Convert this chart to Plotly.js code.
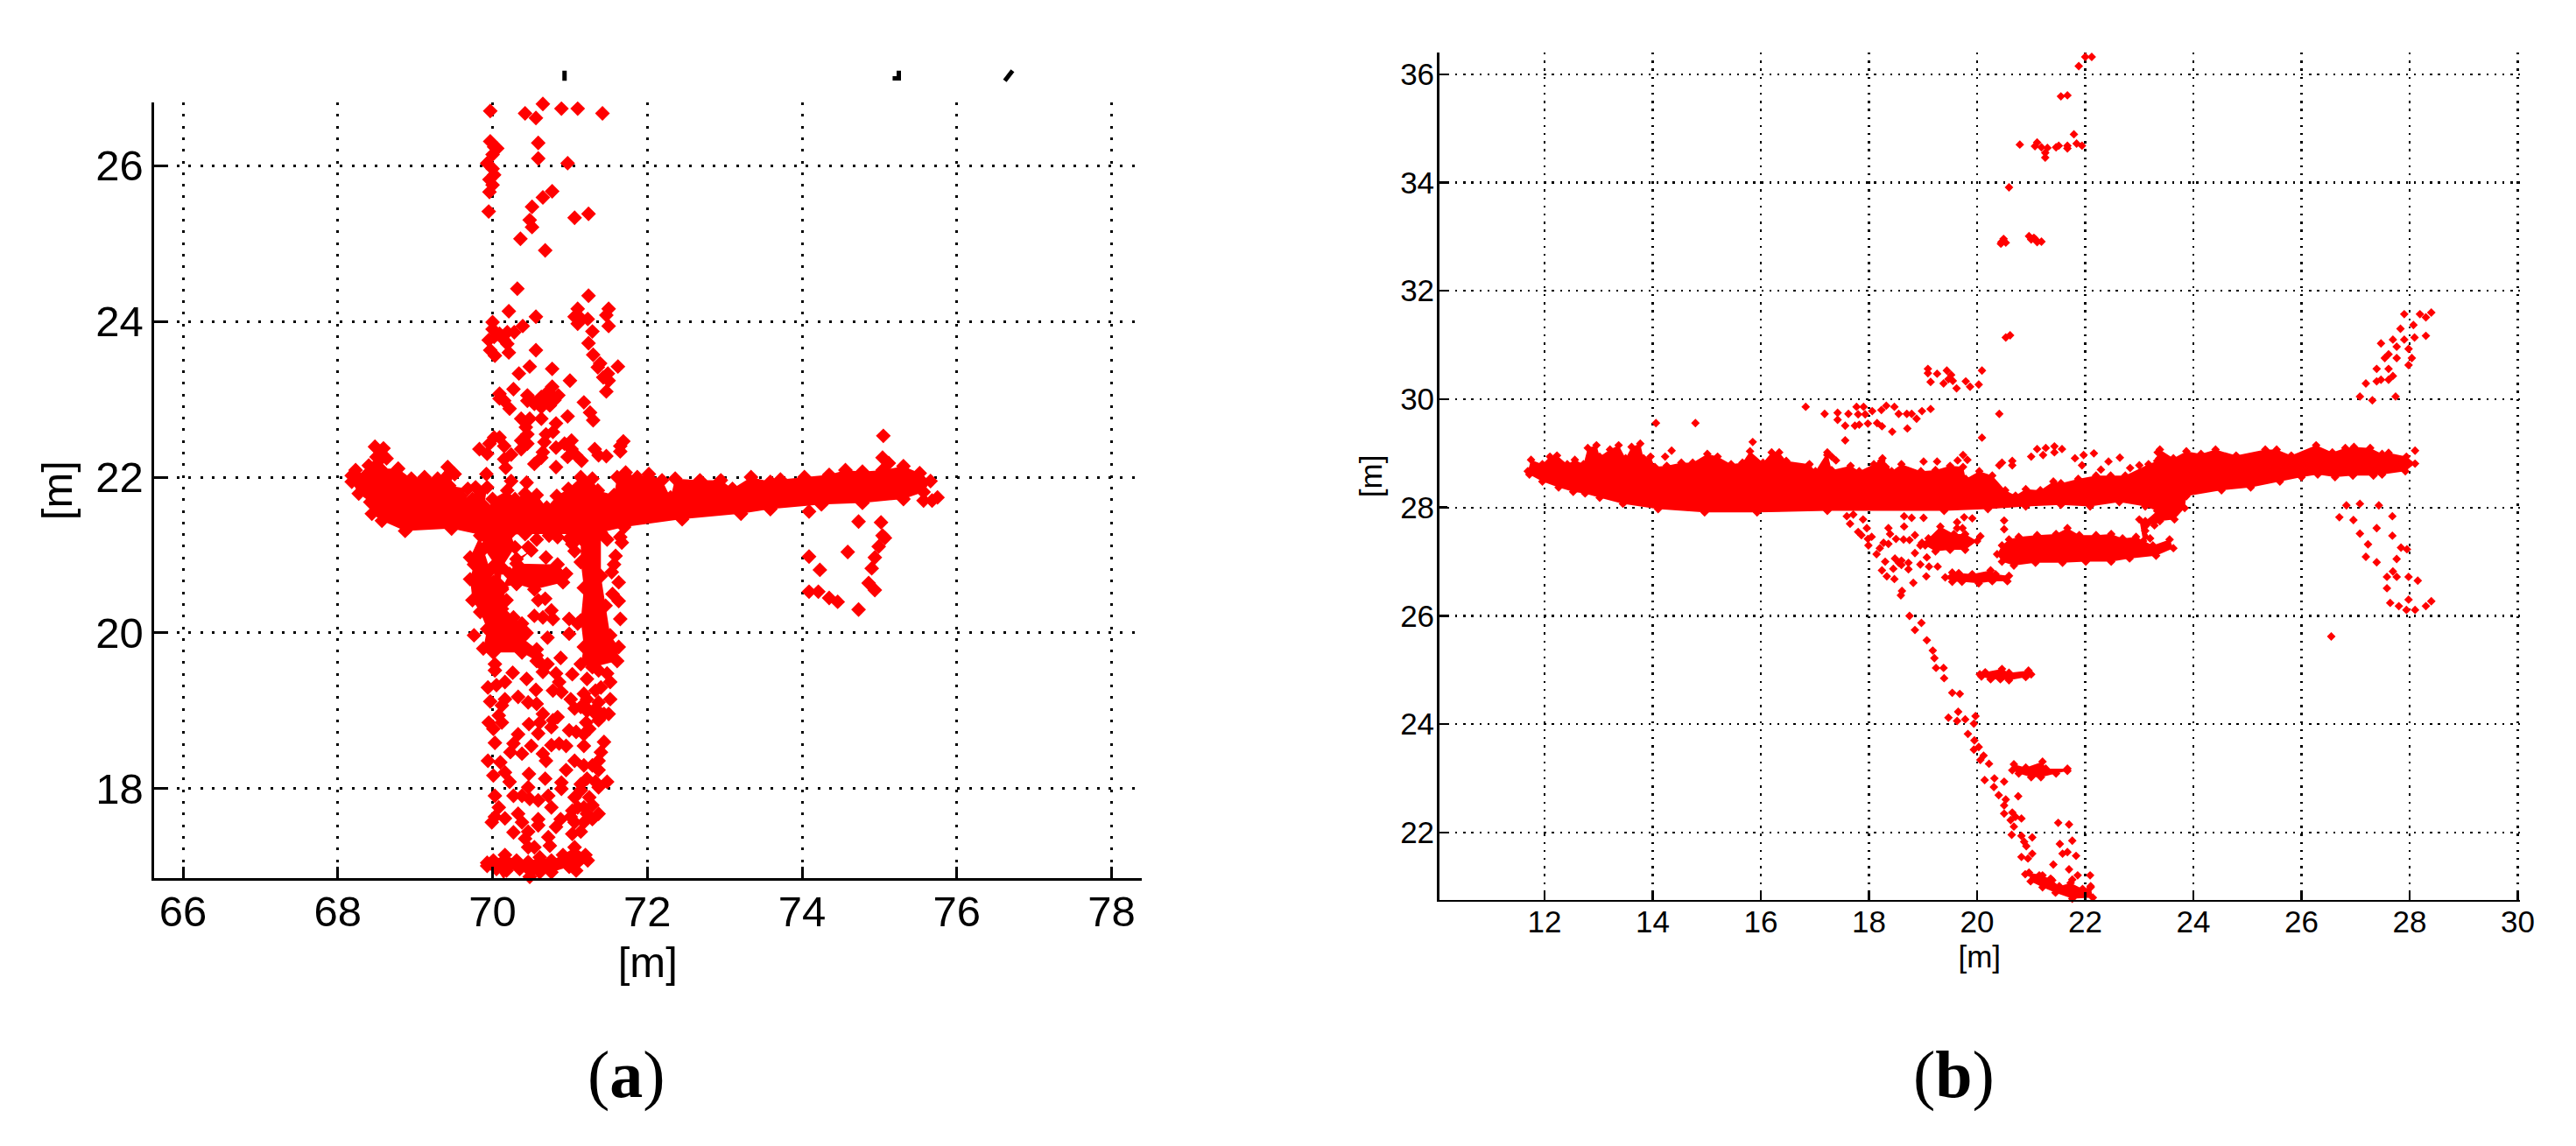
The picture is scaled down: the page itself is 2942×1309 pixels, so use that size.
<!DOCTYPE html>
<html><head><meta charset="utf-8">
<script src="https://cdn.plot.ly/plotly-3.0.1.min.js"></script>
<style>html,body{margin:0;padding:0;background:#fff}#g{width:2942px;height:1309px}</style>
</head><body><div id="g"></div>
<script>
// ---------- panel (a): x,y in metres ----------
const aWingX=[68.18,68.23,68.36,68.40,68.50,68.48,68.59,68.63,68.55,68.78,68.95,69.12,69.29,69.42,69.51,69.44,69.68,69.59,69.74,69.78,69.93,69.89,69.99,70.0,70.19,70.29,70.42,70.57,70.70,70.83,70.98,71.14,71.29,71.36,71.57,71.61,71.72,71.87,72.02,72.19,72.30,72.36,72.68,72.95,73.10,73.34,73.59,73.72,74.03,74.35,74.56,74.78,75.04,75.31,75.52,75.66,75.57,75.31,74.78,74.25,73.59,73.21,72.45,71.70,71.4,71.06,70.42,69.89,69.47,68.87,68.57,68.44,68.42,68.27,68.18];
const aWingY=[22.02,22.09,22.02,22.15,22.26,22.39,22.37,22.24,22.11,22.11,21.98,22.0,21.98,22.13,22.04,21.89,21.85,21.76,21.72,21.87,21.87,21.63,21.57,21.72,21.83,21.72,21.79,21.77,21.61,21.76,21.85,22,21.98,21.83,21.77,22,22.06,22,22.04,21.96,21.74,21.98,21.96,21.96,21.85,22,21.94,21.97,22,22.03,22.09,22.07,22.09,22.14,22.05,21.95,21.81,21.72,21.67,21.65,21.59,21.53,21.46,21.36,21.29,21.27,21.27,21.25,21.34,21.31,21.44,21.53,21.68,21.79,21.94];
const aRightSparX=[71.14,71.40,71.40,71.46,71.52,71.63,71.61,71.29,71.14,71.18,71.14,71.18,71.14,71.14];
const aRightSparY=[21.29,21.36,20.73,20.35,19.97,19.82,19.64,19.56,19.6,19.82,20.16,20.58,20.91,21.21];
const aLeftSparX=[69.84,69.71,69.76,69.71,69.74,69.84,69.93,69.88,70.01,70.38,70.57,70.65,70.71,70.57,70.38,70.35,70.38,70.27,70.18,70.12,70.18,70.12,70.01,69.97,69.88];
const aLeftSparY=[21.25,20.97,20.88,20.69,20.42,20.27,20.05,19.8,19.75,19.75,19.64,19.5,19.6,19.79,19.94,20.09,20.12,20.2,20.2,20.31,20.42,20.56,20.65,20.8,21.08];
const aUpperBraceX=[69.88,70.23,70.29,70.12,70.1,70.01,70.03,69.89];
const aUpperBraceY=[21.29,21.29,21.1,20.84,20.61,20.65,20.88,21.08];
const aLobeX=[70.31,70.84,70.95,70.91,70.54,70.31,70.12,70.22,70.31,70.5];
const aLobeY=[20.89,20.88,20.76,20.65,20.56,20.63,20.58,20.76,20.95,21.06];
const aTailEndX=[69.93,70.01,70.16,70.31,70.46,70.61,70.76,70.91,71.06,71.2,71.23,71.08,70.99,70.76,70.61,70.48,70.35,70.18,70.15,70.05,69.93];
const aTailEndY=[17.05,17.08,17.15,17.08,17.06,17.12,17.08,17.15,17.25,17.15,17.08,16.95,17,16.93,16.93,16.87,16.97,16.95,16.83,16.97,17.01];
const aHeartX=[70.77,70.85,70.8,70.74,70.63,70.54,70.45,70.45,70.63,70.71];
const aHeartY=[23.16,23.05,22.99,22.92,22.90,22.94,22.98,23.05,23.03,23.09];
const aNoseX=[69.97,70.02,70.06,70,69.93,70,70.02,69.96,70,69.96,69.95,70.09,70.09,70.15,70.22,
70.42,70.65,70.56,70.89,71.10,71.42,70.59,70.59,70.97,70.77,70.65,70.51,70.48,70.51,70.36,70.68,71.06,71.24,69.97,
70.32,71.24,70.21,70.56,71.10,71.06,71.15,71.23,71.10,71.50,71.47,71.50,70.39,70,70,70.09,70.19,70.28,70.15,70.02,69.95,70.19,69.97,70.03,70.21,70.56,
71.29,71.24,71.30,71.39,71.36,71.62,71.49,71.43,71.5,71.47,70.48,70.34,70.77,71.0,70.27,70.63,70.97,71.18,71.26,71.3,70.82,
70.37,70.48,70.43,70.45,70.78,70.69,70.37,70.67,70.02,70.09,69.96,69.83,70.15,70.24,69.93,70.15,70.17,70.37,70.45,70.65,70.54,70.63,
70.82,70.93,71.02,71.02,70.97,71.15,71.08,71.32,71.37,71.47,71.65,71.69,71.65,70.82,69.92,70.24,70.44];
const aNoseY=[26.31,26.24,26.22,26.14,26.03,25.96,25.88,25.82,25.75,25.66,25.41,23.07,23.01,22.98,22.88,
26.67,26.79,26.61,26.73,26.73,26.67,26.29,26.09,26.03,25.67,25.59,25.47,25.30,25.21,25.06,24.91,25.33,25.38,26.70,
24.42,24.33,24.13,24.06,24.16,24.06,24.03,24.03,23.97,24.16,24.08,23.94,23.94,23.99,23.90,23.84,23.86,23.86,23.76,23.8,23.76,23.71,23.63,23.56,23.6,23.63,
23.87,23.72,23.57,23.46,23.41,23.42,23.33,23.28,23.24,23.1,23.42,23.33,23.39,23.24,23.13,22.75,22.78,22.96,22.83,22.73,22.69,
22.75,22.75,22.64,22.55,22.58,22.55,22.47,22.45,22.51,22.51,22.43,22.36,22.4,22.29,22.3,22.23,22.12,22.36,22.43,22.32,22.17,22.25,
22.38,22.43,22.47,22.36,22.26,22.21,22.28,22.36,22.28,22.27,22.4,22.46,22.33,22.13,22.04,21.95,21.93];
const aWingEndX=[75.57,75.75,75.68,75.05,75.04,75.12,74.09,74.73,74.09,74.23,74.59,74.09,74.21,74.35,74.46,74.73,75.02,75.04,74.99,74.94,74.90,74.86,74.94,75.07];
const aWingEndY=[21.70,21.74,21.7,22.53,22.25,22.18,21.56,21.43,20.98,20.81,21.04,20.53,20.53,20.45,20.40,20.30,21.42,21.25,21.11,20.97,20.83,20.64,20.55,21.22];
const aBodyX=[71.48,71.65,71.67,71.59,71.57,71.54,71.63,71.55,71.63,71.65,70.69,70.59,70.68,70.76,70.54,70.65,70.78,70.99,71.10,70.99,70.44,70.71,69.76,70.88,70.57,70.65,
70.84,70.99,70.73,70.57,70.46,71.03,71.06,
70.03,70.03,70.26,70.44,70.16,70.05,69.94,70.56,70.82,71.03,70.86,70.78,70.89,71.01,69.97,70.16,70.12,70.33,70.46,70.57,70.65,71.06,71.2,71.33,70.08,70.12,69.95,70.01,70.47,70.78,70.84,70.61,70.59,70.76,70.99,71.08,71.21,
70.03,70.33,70.27,70.23,70.38,70.5,70.65,70.69,70.86,70.95,70.76,71.18,71.44,71.4,71.37,71.06,71.18,70.95,69.94,70.1,70.16,70.22,70.01,70.47,70.68,70.46,70.89,70.89,
70.27,70.38,70.48,70.03,70.08,70.03,70.59,70.72,70.76,70.33,69.99,70.16,70.38,70.59,70.59,70.46,70.27,70.42,70.88,70.82,70.72,70.74,71.01,71.03,70.54,70.46,
71.37,71.52,71.22,71.18,71.33,71.52,71.44,71.22,71.14,71.37,71.25,71.18,71.48,71.37,71.14,71.06,71.25,71.37,71.18,71.06,71.14,71.29,71.18,71.22,71.37,71.48,71.4,71.37,71.5,71.33,71.22,71.29,71.14,71.33,71.1,71.29,71.03,71.22];
const aBodyY=[21.20,21.23,21.16,20.99,20.88,20.78,20.65,20.50,20.41,20.18,20.97,20.42,20.44,20.29,20.22,20.20,20.18,20.18,20.12,19.99,20.0,19.94,19.97,19.68,19.71,19.58,
21.23,21.21,21.25,21.2,21.1,21.14,21.05,
19.6,19.52,19.49,19.41,19.37,19.33,19.3,19.27,19.48,19.47,19.37,19.26,19.24,19.15,19.12,19.15,19.07,19.18,19.11,19.09,18.96,19.03,19.05,19.03,18.94,18.85,18.85,18.77,18.83,18.88,18.92,18.85,18.71,18.79,18.75,18.73,18.85,
18.59,18.70,18.58,18.47,18.45,18.55,18.45,18.36,18.58,18.55,18.56,18.55,18.6,18.47,18.36,18.36,18.3,18.24,18.36,18.34,18.21,18.09,18.17,18.19,18.13,18.02,18.08,18.0,
17.91,17.91,17.87,17.91,17.76,17.64,17.85,17.91,17.76,17.68,17.57,17.62,17.57,17.61,17.53,17.45,17.44,17.36,17.61,17.51,17.38,17.27,17.64,17.42,17.25,17.25,
19.52,19.37,19.41,19.22,19.26,19.15,18.96,19.15,19.05,18.88,18.77,18.7,18.09,18.02,17.98,17.89,17.89,17.68,17.57,17.57,17.45,17.61,17.76,18.13,18.24,19.48,19.3,19.11,18.96,18.96,19.0,18.3,18.06,18.09,17.76,17.79,17.72,17.68];
const aStrayX=[70.93,70.93,null,75.25,75.25,75.17,null,76.72,76.62];
const aStrayY=[27.22,27.09,null,27.22,27.12,27.12,null,27.22,27.09];
const aTicksX=[66,68,70,72,74,76,78];
const aTicksY=[18,20,22,24,26];

// ---------- panel (b): x,y in metres ----------
const bWingX=[11.69,11.75,11.96,12.10,12.23,12.42,12.56,12.72,12.80,12.96,13.02,13.21,13.37,13.50,13.61,13.77,13.83,13.96,14.04,14.26,14.53,14.74,15.01,15.20,15.45,15.66,15.80,16.04,16.20,16.34,16.47,16.90,17.01,17.23,17.31,17.66,17.82,18.09,18.25,18.42,18.60,18.96,19.23,19.50,19.74,19.79,20.04,20.28,20.52,20.71,20.90,21.17,21.41,21.55,21.87,22.20,22.47,22.74,23.17,23.33,23.38,23.63,23.87,24.14,24.41,24.79,25.33,25.54,25.81,26.27,26.57,26.81,26.97,27.27,27.49,27.61,27.94,28.1,27.92,27.49,27.33,26.95,26.62,26.30,26.0,25.60,25.06,24.52,23.87,23.84,23.65,23.38,23.28,23.11,23.33,23.11,22.63,22.09,21.55,20.90,20.20,19.39,17.23,15.93,14.96,14.1,13.45,13.02,12.75,12.53,12.26,11.96,11.72];
const bWingY=[28.67,28.88,28.80,28.94,28.96,28.80,28.88,28.80,29.10,29.15,28.94,29.07,29.15,28.91,29.12,29.18,28.91,28.94,28.75,28.77,28.83,28.83,28.99,28.94,28.80,28.83,29.04,28.83,29.02,29.02,28.86,28.80,28.67,29.02,28.69,28.77,28.67,28.80,28.91,28.67,28.80,28.67,28.69,28.77,28.75,28.53,28.67,28.59,28.32,28.22,28.34,28.32,28.48,28.45,28.53,28.59,28.59,28.59,28.80,28.86,29.07,28.91,29.04,28.99,29.07,28.96,29.07,29.07,28.96,29.15,29.02,29.10,29.12,29.10,28.99,29.01,28.94,28.81,28.67,28.61,28.59,28.59,28.56,28.61,28.56,28.48,28.37,28.32,28.21,27.99,27.78,27.75,27.67,27.75,27.94,28.02,28.10,28.02,28.05,28.02,27.97,27.94,27.94,27.91,27.91,27.97,28.07,28.18,28.26,28.29,28.37,28.48,28.61];
const bInnerX=[20.37,20.46,20.59,20.77,21.11,21.46,21.67,21.89,22.2,22.48,22.69,22.94,23.25,23.56,23.63,23.31,22.82,22.48,22.01,21.58,21.08,20.68,20.46];
const bInnerY=[27.14,27.3,27.41,27.46,27.49,27.51,27.62,27.49,27.49,27.51,27.43,27.46,27.3,27.41,27.25,27.11,27.06,27.0,27.0,26.98,26.98,26.93,27];
const bFlapX=[18.98,19.1,19.32,19.57,19.78,20,19.78,19.5,19.23,19.04];
const bFlapY=[27.35,27.43,27.65,27.51,27.51,27.38,27.22,27.22,27.19,27.3];
const bEngineX=[23,23.25,23.5,23.75,23.34,23.44,23.68,23.56,23.11,23.2,23.07];
const bEngineY=[27.78,27.76,27.87,28.0,27.84,27.95,28.11,28.05,27.57,27.43,27.38];
const bRow267X=[19.41,19.54,19.66,19.91,20.25,20.34,20.59,20.56,20.28,20.03,19.72,19.54];
const bRow267Y=[26.71,26.8,26.79,26.77,26.84,26.77,26.74,26.64,26.64,26.6,26.63,26.63];
const bRow25X=[20.05,20.15,20.46,20.59,20.95,21.0,20.9,20.59,20.43,20.25,20.08];
const bRow25Y=[24.92,24.96,25.02,24.95,24.99,24.92,24.87,24.81,24.83,24.83,24.88];
const bRow23X=[20.65,20.68,20.9,21.21,21.27,21.67,21.67,21.46,21.18,21.0,20.77];
const bRow23Y=[23.15,23.26,23.2,23.31,23.18,23.18,23.14,23.09,23.02,23.02,23.09];
const bWingtipX=[20.96,21.21,21.39,21.52,21.73,21.95,22.1,22.14,21.76,21.45,21.21,20.99];
const bWingtipY=[21.26,21.21,21.12,21.01,21.07,20.96,20.99,20.8,20.78,20.89,20.99,21.1];
const bTopX=[22,22.12,21.88,21.55,21.67,21.79,20.79,21.11,21.07,21.19,21.3,21.26,21.26,21.46,21.51,21.67,21.67,21.84,21.94,20.59,20.45,20.49,20.44,20.53,20.96,21.05,21.11,21.19,21.08,21.0,20.53,20.61];
const bTopY=[36.32,36.32,36.15,35.59,35.61,34.89,34.70,34.74,34.67,34.65,34.64,34.46,34.55,34.65,34.68,34.68,34.63,34.72,34.68,33.91,32.90,32.96,32.87,32.89,33.01,32.98,32.90,32.91,32.95,32.95,31.14,31.18];
const bAboveX=[19.09,19.09,19.26,19.14,19.44,19.52,19.47,19.38,19.55,19.62,19.79,19.87,20.03,20.09,16.83,17.18,17.42,17.42,17.62,17.56,17.74,17.82,17.56,17.77,17.9,17.8,17.93,18.06,18.23,18.32,18.47,17.98,18.15,18.24,18.43,18.55,18.7,18.71,18.79,18.88,18.98,19.14,20.41,20.09,
21,21.11,21.27,21.43,21.57,21.43,21.22,21.81,21.97,22.16,21.94,22.43,22.64,22.29,23.0,22.83,17.23,17.31,17.39,17.2,16.88,18.23,18.31,19.01,19.26,19.74,19.64,19.82,20.46,20.65,20.65,20.41,23.34,23.37,14.06,14.79,14.35,14.23,28.1,15.85];
const bAboveY=[30.56,30.48,30.47,30.32,30.53,30.45,30.37,30.29,30.34,30.2,30.33,30.23,30.27,30.53,29.86,29.73,29.75,29.62,29.73,29.51,29.51,29.53,29.24,29.86,29.86,29.72,29.72,29.78,29.8,29.88,29.86,29.55,29.56,29.5,29.4,29.73,29.73,29.46,29.73,29.64,29.78,29.82,29.73,29.29,
28.94,29.08,29.1,29.13,29.08,29.02,28.97,28.91,28.97,29.0,28.78,28.85,28.92,28.7,28.78,28.73,28.97,28.94,28.87,28.81,28.78,28.86,28.75,28.85,28.85,28.97,28.87,28.88,28.83,28.86,28.78,28.78,29.02,28.91,29.56,29.56,29.05,28.94,29.05,29.21];
const bBelowX=[20.06,20.5,20.5,19.91,19.76,19.63,19.73,19.63,
17.65,17.59,17.71,17.89,17.96,17.86,18.05,17.99,18.14,18.27,18.36,18.65,18.65,18.79,19.01,18.39,18.64,18.85,18.36,18.85,19.07,18.48,18.73,18.95,18.24,18.45,18.73,19.11,19.27,18.33,18.47,19.06,18.82,18.61,18.59,
17.8,17.98,18.2,18.5,18.6,18.75,18.95,18.3,18.55,18.6];
const bBelowY=[27.47,27.76,27.6,27.8,27.82,27.73,27.62,27.62,
27.7,27.84,27.87,27.78,27.62,27.49,27.46,27.3,27.14,27.35,27.62,27.65,27.84,27.81,27.81,27.51,27.41,27.49,27.33,27.16,27.08,27.06,26.98,26.95,26.84,26.87,26.86,26.91,26.91,26.73,26.68,26.73,26.61,26.46,26.38,
27.55,27.42,27.25,27.42,27.02,27.4,27.3,27.0,26.98,26.94];
const bLeadEdgeX=[18.75,18.97,18.85,19.07,19.18,19.21,19.24,19.38,19.39,19.54,19.68,19.47,19.65,19.63,19.78,19.97,19.94,19.83,19.95,19.94,20.03,20.12,20.06,20.22,20.14,20.32,20.5,20.31,20.4,20.76,20.53,20.5,20.5,20.65,20.71,20.82,20.62,20.68,20.64,20.82,21.02,20.87,20.91,21.02,20.82,20.94,
21.5,21.7,21.76,21.53,21.67,21.58,21.83,21.41,21.7,22.09,21.86,21.76,22.1,20.89,21.15,21.36,21.3,21.83];
const bLeadEdgeY=[26.0,25.87,25.74,25.55,25.36,25.22,25.04,25.04,24.85,24.58,24.56,24.12,24.23,24.06,24.09,24.15,24.01,23.82,23.7,23.53,23.58,23.42,23.34,23.27,22.97,23,22.94,22.84,22.69,22.67,22.61,22.5,22.35,22.37,22.29,22.26,22.23,22.11,21.96,21.94,21.91,21.83,21.75,21.61,21.55,21.52,
22.18,22.15,21.85,21.79,21.64,21.61,21.57,21.41,21.32,21.21,21.21,21.13,21.01,21.23,21.21,21.15,21.04,20.86];
const bTailUpX=[27.08,27.19,27.31,27.39,27.74,27.61,27.39,27.54,27.47,27.69,27.76,27.98,27.98,27.9,27.83,28.07,27.9,28.3,28.19,28.4,27.76,27.61,28.09,27.69,28.04,27.47,28.3,27.61];
const bTailUpY=[30.05,30.29,29.98,30.33,30.05,30.56,30.56,30.76,31.03,30.43,30.97,30.63,30.93,31.57,31.3,31.37,31.1,31.17,31.57,31.6,30.76,30.83,31.14,31.1,30.76,30.36,31.51,30.36];
const bTailDownX=[26.83,26.7,26.96,27.08,27.08,27.23,27.19,27.39,27.43,27.68,27.39,27.68,27.84,27.95,27.76,27.69,27.98,27.76,28.15,27.58,27.64,27.8,27.94,28.1,28.3,28.4,27.98,27.58,26.55];
const bTailDownY=[28.04,27.82,27.77,28.07,27.52,27.32,27.09,26.99,28.04,27.84,27.62,27.48,27.26,27.23,27.05,26.82,26.72,26.72,26.65,26.72,26.24,26.18,26.11,26.11,26.18,26.27,26.3,26.51,25.62];
const bTicksX=[12,14,16,18,20,22,24,26,28,30];
const bTicksY=[22,24,26,28,30,32,34,36];

const RED='#ff0000';
const W=2942,H=1309;
function pts(xs,ys,ax,size){return {type:'scatter',mode:'markers',x:xs,y:ys,xaxis:ax[0],yaxis:ax[1],cliponaxis:false,hoverinfo:'skip',
  marker:{symbol:'diamond',size:size,color:RED,line:{width:0}}};}
function solid(xs,ys,ax,size){const t=pts(xs,ys,ax,size);t.fill='toself';t.fillcolor=RED;t.line={width:0,color:RED};return t;}
const A=['x','y'],B=['x2','y2'],SA=13,SB=7.6;
const data=[
 solid(aWingX,aWingY,A,SA),solid(aRightSparX,aRightSparY,A,SA),solid(aLeftSparX,aLeftSparY,A,SA),solid(aUpperBraceX,aUpperBraceY,A,SA),solid(aLobeX,aLobeY,A,SA),solid(aTailEndX,aTailEndY,A,SA),solid(aHeartX,aHeartY,A,SA),
 pts(aNoseX,aNoseY,A,SA),pts(aWingEndX,aWingEndY,A,SA),pts(aBodyX,aBodyY,A,SA),
 {type:'scatter',mode:'lines',x:aStrayX,y:aStrayY,xaxis:'x3',yaxis:'y3',cliponaxis:false,hoverinfo:'skip',line:{color:'#000',width:5}},
 solid(bWingX,bWingY,B,SB),solid(bInnerX,bInnerY,B,SB),solid(bFlapX,bFlapY,B,SB),solid(bEngineX,bEngineY,B,SB),solid(bRow267X,bRow267Y,B,SB),solid(bRow25X,bRow25Y,B,SB),solid(bRow23X,bRow23Y,B,SB),solid(bWingtipX,bWingtipY,B,SB),
 pts(bTopX,bTopY,B,SB),pts(bAboveX,bAboveY,B,SB),pts(bBelowX,bBelowY,B,SB),pts(bLeadEdgeX,bLeadEdgeY,B,SB),pts(bTailUpX,bTailUpY,B,SB),pts(bTailDownX,bTailDownY,B,SB)
];
function axis(dom,range,vals,fs,lw,tl,gw,dash,title,standoff,anchor,lblOff){return {domain:dom,range:range,tickmode:'array',tickvals:vals,ticktext:vals.map(String),
  tickfont:{family:'Liberation Sans, Arial, sans-serif',size:fs,color:'#000'},showline:true,linecolor:'#000',linewidth:lw,ticks:'inside',ticklen:tl,tickwidth:lw,tickcolor:'#000',
  showgrid:true,gridcolor:'#000',gridwidth:gw,griddash:dash,zeroline:false,anchor:anchor,automargin:false,ticklabelstandoff:lblOff,
  title:{text:title,standoff:standoff,font:{family:'Liberation Sans, Arial, sans-serif',size:fs,color:'#000'}}};}
const layout={width:W,height:H,margin:{l:0,r:0,t:0,b:0},paper_bgcolor:'#fff',plot_bgcolor:'rgba(0,0,0,0)',showlegend:false,
 xaxis:axis([175.5/W,1304/W],[65.62,78.39],aTicksX,49,3,13,3,'3px,10.3px','[m]',15,'y',-7),
 yaxis:axis([1-1003.3/H,1-117/H],[16.85,26.81],aTicksY,49,3,13,3,'3px,10.3px','[m]',12,'x',-1),
 xaxis3:{domain:[175.5/W,1304/W],range:[65.62,78.39],visible:false,anchor:'y3'},
 yaxis3:{domain:[1-100/H,1-75/H],range:[27.003,27.284],visible:false,anchor:'x3'},
 xaxis2:axis([1643.6/W,2878/W],[10.05,30.04],bTicksX,35,2.5,9,2.3,'2.3px,6.9px','[m]',10,'y2',-7),
 yaxis2:axis([1-1027.7/H,1-60/H],[20.76,36.4],bTicksY,35,2.5,9,2.3,'2.3px,6.9px','[m]',10,'x2',-4),
 annotations:[
  {xref:'paper',yref:'paper',x:715/W,y:1-1227/H,xanchor:'center',yanchor:'middle',showarrow:false,text:'(<b>a</b>)',font:{family:'Liberation Serif, serif',size:76,color:'#000'}},
  {xref:'paper',yref:'paper',x:2231/W,y:1-1227/H,xanchor:'center',yanchor:'middle',showarrow:false,text:'(<b>b</b>)',font:{family:'Liberation Serif, serif',size:76,color:'#000'}}
 ]};
Plotly.newPlot('g',data,layout,{staticPlot:true,displayModeBar:false});
</script></body></html>
